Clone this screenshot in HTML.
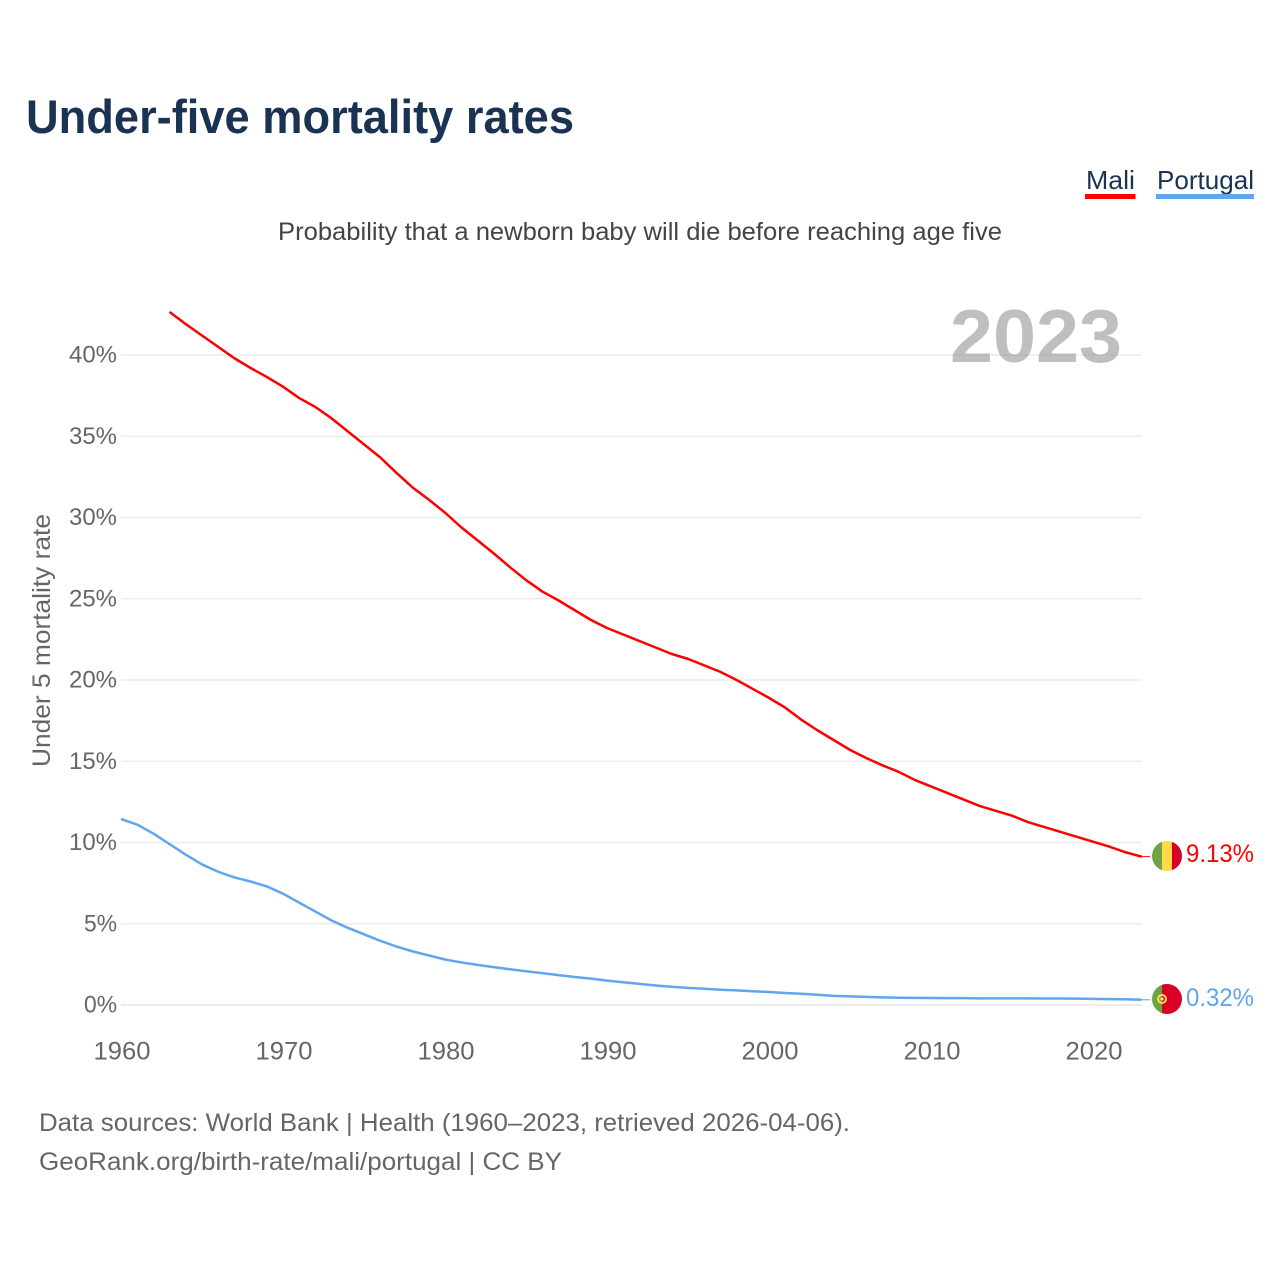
<!DOCTYPE html>
<html lang="en">
<head>
<meta charset="utf-8">
<title>Under-five mortality rates</title>
<style>
html,body{margin:0;padding:0;background:#fff;width:1280px;height:1280px;overflow:hidden}
svg{display:block;font-family:"Liberation Sans",sans-serif}
</style>
</head>
<body>
<svg id="chart" xmlns="http://www.w3.org/2000/svg" width="1280" height="1280" viewBox="0 0 1280 1280">
  <defs>
    <clipPath id="clip-mali"><circle cx="1167" cy="856" r="15"/></clipPath>
    <clipPath id="clip-portugal"><circle cx="1167" cy="999" r="15"/></clipPath>
  </defs>
  <rect width="1280" height="1280" fill="#fff"/>
  <text x="26" y="133" font-size="47" font-weight="700" fill="#1a3352" textLength="548" lengthAdjust="spacingAndGlyphs">Under-five mortality rates</text>
  <g>
    <text x="1086" y="189" font-size="26" fill="#1a3352" textLength="49" lengthAdjust="spacingAndGlyphs">Mali</text>
    <rect x="1085" y="194" width="50.500" height="5" fill="#ff0000"/>
  </g>
  <g>
    <text x="1157" y="189" font-size="26" fill="#1a3352" textLength="97" lengthAdjust="spacingAndGlyphs">Portugal</text>
    <rect x="1156" y="194" width="98" height="5" fill="#60a5ee"/>
  </g>
  <text x="278" y="240" font-size="25" fill="#444" textLength="724" lengthAdjust="spacingAndGlyphs">Probability that a newborn baby will die before reaching age five</text>
  <g id="grid"></g>
  <g id="y-labels"></g>
  <g id="x-labels"></g>
  <text transform="translate(50,767) rotate(-90)" font-size="25" fill="#666" textLength="253" lengthAdjust="spacingAndGlyphs">Under 5 mortality rate</text>
  <text x="950" y="362" font-size="75" font-weight="700" fill="#808080" fill-opacity="0.5" textLength="172" lengthAdjust="spacingAndGlyphs">2023</text>
  <polyline id="line-mali" fill="none" stroke="#ff0000" stroke-width="2.500" stroke-linejoin="round"/>
  <polyline id="line-portugal" fill="none" stroke="#60a5ee" stroke-width="2.500" stroke-linejoin="round"/>
  <line id="lead-mali" x2="1150" stroke="#ff0000" stroke-width="1"/>
  <line id="lead-portugal" x2="1150" stroke="#60a5ee" stroke-width="1"/>
  <g clip-path="url(#clip-mali)">
    <rect x="1152" y="841" width="10" height="30" fill="#6da544"/>
    <rect x="1162" y="841" width="10" height="30" fill="#ffda44"/>
    <rect x="1172" y="841" width="10" height="30" fill="#d80027"/>
  </g>
  <g clip-path="url(#clip-portugal)">
    <rect x="1152" y="984" width="10" height="30" fill="#6da544"/>
    <rect x="1162" y="984" width="20" height="30" fill="#d80027"/>
    <circle cx="1162" cy="999" r="4" fill="none" stroke="#ffda44" stroke-width="2"/>
    <circle cx="1162" cy="999" r="1.500" fill="#f0f0f0"/>
  </g>
  <text id="value-mali" x="1186" y="862" font-size="25" fill="#ff0000" textLength="68" lengthAdjust="spacingAndGlyphs"></text>
  <text id="value-portugal" x="1186" y="1006" font-size="25" fill="#60a5ee" textLength="68" lengthAdjust="spacingAndGlyphs"></text>
  <text x="39" y="1131" font-size="25" fill="#666" textLength="811" lengthAdjust="spacingAndGlyphs">Data sources: World Bank | Health (1960–2023, retrieved 2026-04-06).</text>
  <text x="39" y="1170" font-size="25" fill="#666" textLength="523" lengthAdjust="spacingAndGlyphs">GeoRank.org/birth-rate/mali/portugal | CC BY</text>
</svg>
<script>
const yTicks = [0, 5, 10, 15, 20, 25, 30, 35, 40];
const xTicks = [1960, 1970, 1980, 1990, 2000, 2010, 2020];
const maliStartYear = 1963;
const maliValues = [42.65, 41.9, 41.2, 40.5, 39.8, 39.2, 38.65,
  38.05, 37.35, 36.8, 36.1, 35.3, 34.5, 33.7, 32.75, 31.85, 31.1,
  30.3, 29.4, 28.6, 27.8, 26.95, 26.15, 25.45, 24.9, 24.3, 23.7,
  23.2, 22.8, 22.4, 22.0, 21.6, 21.3, 20.9, 20.5, 20.0, 19.45,
  18.9, 18.3, 17.55, 16.9, 16.3, 15.7, 15.2, 14.75, 14.35, 13.85,
  13.45, 13.05, 12.65, 12.25, 11.95, 11.65, 11.25, 10.95, 10.65, 10.35,
  10.05, 9.75, 9.4, 9.13];
const portugalStartYear = 1960;
const portugalValues = [11.45, 11.1, 10.55, 9.9, 9.25, 8.65, 8.2, 7.85, 7.6, 7.3,
  6.85, 6.3, 5.75, 5.2, 4.75, 4.35, 3.95, 3.6, 3.3, 3.05,
  2.8, 2.62, 2.47, 2.33, 2.2, 2.08, 1.96, 1.84, 1.72, 1.62,
  1.5, 1.4, 1.3, 1.2, 1.12, 1.05, 1.0, 0.94, 0.9, 0.85,
  0.8, 0.74, 0.69, 0.63, 0.56, 0.53, 0.5, 0.47, 0.45, 0.44,
  0.43, 0.42, 0.42, 0.41, 0.41, 0.41, 0.41, 0.4, 0.4, 0.39,
  0.38, 0.36, 0.35, 0.32];

const NS = 'http://www.w3.org/2000/svg';
function xScale(year) { return 121 + (year - 1960) * 16.2; }
function yScale(v) { return 1005 - v * 16.25; }
function points(start, values) {
  return values.map(function (v, i) {
    return xScale(start + i).toFixed(2) + ',' + yScale(v).toFixed(2);
  }).join(' ');
}

const grid = document.getElementById('grid');
const yLabels = document.getElementById('y-labels');
yTicks.forEach(function (t) {
  const ln = document.createElementNS(NS, 'line');
  
  
  ln.setAttribute('x1', xScale(1960));
  ln.setAttribute('x2', 1142);
  ln.setAttribute('y1', yScale(t));
  ln.setAttribute('y2', yScale(t));
  ln.setAttribute('stroke', t === 0 ? '#e6e6e6' : '#ececec');
  ln.setAttribute('stroke-width', 1.6);
  grid.appendChild(ln);

  const lb = document.createElementNS(NS, 'text');
  
  
  const w = t < 10 ? 33 : 48;
  lb.setAttribute('x', 117 - w);
  lb.setAttribute('y', yScale(t) + 7.5);
  lb.setAttribute('font-size', 24);
  lb.setAttribute('fill', '#666');
  lb.setAttribute('textLength', w);
  lb.setAttribute('lengthAdjust', 'spacingAndGlyphs');
  lb.textContent = t + '%';
  yLabels.appendChild(lb);
});

const xLabels = document.getElementById('x-labels');
xTicks.forEach(function (t) {
  const lb = document.createElementNS(NS, 'text');
  
  
  lb.setAttribute('x', xScale(t) - 27.5);
  lb.setAttribute('y', 1059.5);
  lb.setAttribute('font-size', 25);
  lb.setAttribute('fill', '#666');
  lb.setAttribute('textLength', 57);
  lb.setAttribute('lengthAdjust', 'spacingAndGlyphs');
  lb.textContent = String(t);
  xLabels.appendChild(lb);
});

document.getElementById('line-mali').setAttribute('points', points(maliStartYear, maliValues));
document.getElementById('line-portugal').setAttribute('points', points(portugalStartYear, portugalValues));

function lead(id, year, v) {
  const el = document.getElementById(id);
  el.setAttribute('x1', xScale(year));
  el.setAttribute('y1', yScale(v));
  el.setAttribute('y2', yScale(v));
}
const maliLast = maliValues[maliValues.length - 1];
const portugalLast = portugalValues[portugalValues.length - 1];
lead('lead-mali', 2023, maliLast);
lead('lead-portugal', 2023, portugalLast);
document.getElementById('value-mali').textContent = maliLast.toFixed(2) + '%';
document.getElementById('value-portugal').textContent = portugalLast.toFixed(2) + '%';
</script>
</body>
</html>
